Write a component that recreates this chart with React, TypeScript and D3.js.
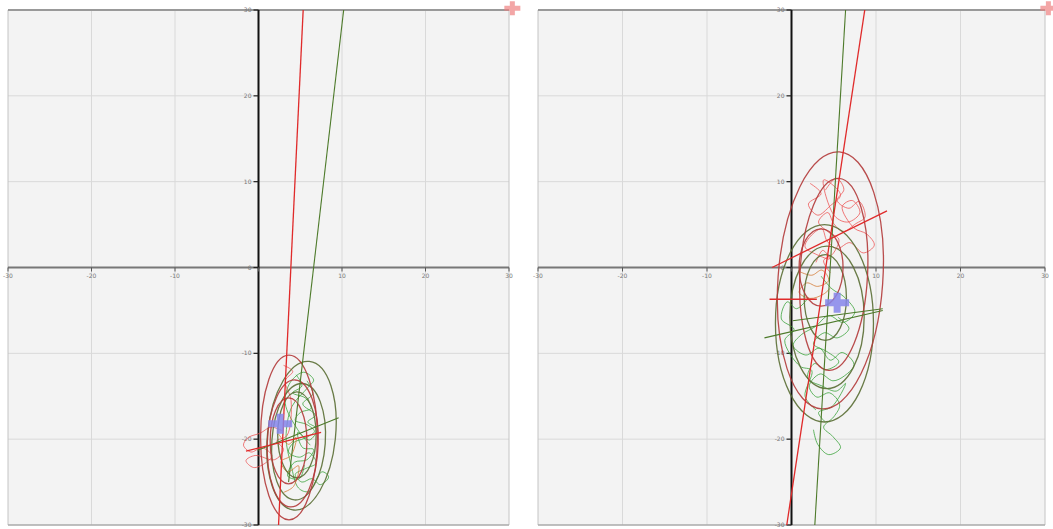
import React from 'react';
import * as d3 from 'd3';

// ---- axis ticks ----
const xTicks = [-30, -20, -10, 0, 10, 20, 30];
const yTicks = [-30, -20, -10, 0, 10, 20, 30];
const xTickLabels = ['-30', '-20', '-10', '0', '10', '20', '30'];
const yTickLabels = ['-30', '-20', '-10', '0', '10', '20', '30'];

// ---- left panel data ----
// ellipses: [cx, cy, rx, ry, angle]
const leftRedEllipses = [
  [3.65, -19.8, 3.4, 9.6, 0],
  [4.1, -20.5, 3.05, 7.4, 2],
  [3.6, -20.2, 2.2, 5.0, 0],
];
const leftGreenEllipses = [
  [5.15, -19.6, 4.07, 8.7, 6],
  [4.8, -20.3, 3.2, 6.8, 4],
  [4.6, -19.5, 2.3, 5.0, 0],
];
const leftRedLines = [
  [[2.4, -30], [5.35, 30]],
  [[-1.5, -21.4], [7.5, -19.2]],
];
const leftGreenLines = [
  [[3.6, -25], [10.2, 30]],
  [[-0.1, -21.3], [9.6, -17.5]],
];
const leftGreenTrack = [
  [4.5, -12.5], [5.2, -13.8], [4.1, -14.6], [5.6, -15.2], [6.3, -16.4], [5.0, -16.9], [4.4, -17.8],
  [5.8, -18.3], [6.7, -19.1], [5.5, -19.9], [4.2, -20.4], [3.6, -21.5], [4.9, -22.1], [6.1, -21.6],
  [6.9, -22.8], [5.7, -23.4], [4.4, -24.1], [5.2, -25.0], [6.4, -24.6], [7.4, -25.3], [8.4, -24.4],
  [7.6, -23.8], [6.0, -26.1], [4.8, -25.7], [3.9, -23.0], [3.3, -19.8], [4.0, -16.2], [5.9, -14.0],
  [6.6, -13.1], [5.4, -12.2], [3.8, -13.4], [3.2, -15.8], [4.7, -18.9], [6.2, -20.7],
];
const leftGreenTrack2 = [
  [5.8, -13.2], [6.5, -14.7], [5.3, -15.9], [6.8, -17.2], [5.9, -18.0], [7.0, -18.8], [6.1, -20.1],
  [4.7, -19.2], [5.3, -21.0], [6.6, -21.2], [5.8, -22.4], [4.3, -22.7], [3.5, -24.3], [4.9, -24.6],
  [5.5, -23.0],
];
const leftRedTrack = [
  [2.8, -19.0], [1.5, -18.6], [0.2, -19.3], [-1.2, -19.8], [-1.8, -20.7], [-0.9, -21.5], [0.4, -21.0],
  [1.6, -21.9], [0.8, -22.8], [-0.6, -23.3], [-1.5, -22.5], [-0.4, -21.9], [1.9, -22.4], [3.0, -21.2],
  [2.2, -20.2], [3.4, -19.6], [3.9, -15.5], [3.2, -13.2], [4.1, -12.1], [3.0, -11.4],
];
const leftOrangeTrack = [
  [2.4, -19.4], [3.6, -20.6], [4.5, -19.8], [3.9, -21.9], [2.7, -22.6], [3.5, -23.8], [4.8, -23.1],
  [4.2, -25.5], [3.0, -26.2],
];
const leftCross = [2.6, -18.2];

// ---- right panel data ----
const rightRedEllipses = [
  [4.6, -1.5, 6.2, 15.0, 4],
  [5.0, -0.8, 4.0, 11.2, 3],
  [3.5, 0.0, 2.6, 4.5, 0],
];
const rightGreenEllipses = [
  [3.9, -6.5, 5.8, 11.5, 0],
  [4.2, -5.8, 4.4, 8.3, 0],
  [4.0, -3.5, 2.5, 5.0, 0],
];
const rightRedLines = [
  [[-0.56, -30], [8.67, 30]],
  [[-2.3, 0], [11.3, 6.6]],
  [[-2.6, -3.7], [3.0, -3.7]],
];
const rightGreenLines = [
  [[2.76, -30], [6.4, 30]],
  [[-3.2, -8.2], [10.8, -5.0]],
  [[0.15, -6.2], [10.8, -4.8]],
];
const rightRedTrack = [
  [2.2, 9.8], [3.5, 8.6], [2.0, 7.4], [3.1, 6.1], [4.6, 7.2], [5.8, 8.4], [4.9, 9.6], [3.8, 10.2],
  [5.1, 6.0], [6.7, 5.3], [8.1, 6.4], [7.2, 7.8], [6.0, 7.1], [7.4, 4.6], [8.9, 3.9], [9.8, 2.6],
  [8.5, 1.7], [6.9, 2.9], [5.4, 2.2], [4.2, 3.1], [3.6, 4.5], [2.4, 3.8], [1.6, 2.4], [3.0, 1.5],
  [4.5, 1.0], [3.7, 2.0], [2.9, 0.6],
];
const rightRedTrack2 = [
  [4.0, 9.0], [5.3, 10.4], [6.2, 9.1], [5.4, 7.8], [6.8, 6.9], [8.0, 7.7], [8.7, 5.9], [7.6, 5.1],
  [6.1, 4.2], [5.0, 5.1], [4.3, 6.4], [3.2, 5.3], [4.4, 4.1], [5.6, 3.3], [4.9, 1.6], [3.8, 0.8],
  [4.6, -0.6],
];
const rightOrangeTrack = [
  [1.0, -0.5], [2.4, -0.9], [3.6, -0.3], [4.4, -1.5], [3.1, -2.2], [1.8, -1.8], [0.9, -2.9],
  [2.2, -3.6], [3.8, -3.1], [4.6, -2.4],
];
const rightGreenTrack = [
  [3.5, -1.0], [4.8, -2.5], [6.2, -3.4], [7.5, -5.2], [6.1, -6.4], [4.4, -5.6], [2.8, -6.9],
  [1.2, -7.8], [0.2, -9.1], [1.7, -10.2], [3.3, -9.4], [4.6, -10.8], [6.0, -9.9], [7.4, -11.3],
  [6.3, -12.6], [4.9, -13.2], [3.4, -12.4], [2.1, -13.8], [3.0, -15.1], [4.5, -14.6], [5.7, -16.0],
  [5.0, -17.4], [3.8, -18.6], [4.9, -19.7], [5.8, -21.0], [4.4, -21.8], [3.1, -20.6], [2.6, -18.9],
];
const rightGreenTrack2 = [
  [2.0, -3.5], [0.6, -4.8], [-0.5, -4.0], [-1.2, -6.0], [0.3, -7.2], [-0.8, -8.5], [1.0, -11.5],
  [2.4, -12.0], [1.6, -15.0], [2.9, -16.6],
];
const rightGreenTrack3 = [
  [5.5, -5.8], [6.8, -7.1], [5.4, -8.2], [3.9, -7.6], [2.6, -8.9], [4.2, -9.8], [5.6, -11.0],
  [4.1, -11.9], [2.7, -11.2], [1.9, -12.9], [3.6, -13.8], [5.3, -14.4], [6.4, -13.5], [4.8, -16.2],
  [3.2, -16.9], [4.0, -18.0],
];
const rightCross = [5.4, -4.1];

const cornerMarker = [30.4, 30.2];

const W = 1053;
const H = 529;

type Pt = number[];

function Cross({ x, y, color, opacity, a, b, t }: { x: number; y: number; color: string; opacity: number; a: number; b: number; t: number }) {
  const d = `M${x - t},${y - b}H${x + t}V${y - t}H${x + a}V${y + t}H${x + t}V${y + b}H${x - t}V${y + t}H${x - a}V${y - t}H${x - t}Z`;
  return <path d={d} fill={color} opacity={opacity} />;
}

function Panel(props: {
  id: string;
  left: number;
  right: number;
  redEllipses: number[][];
  greenEllipses: number[][];
  redLines: Pt[][];
  greenLines: Pt[][];
  redTracks: Pt[][];
  greenTracks: Pt[][];
  orangeTracks: Pt[][];
  cross: Pt;
}) {
  const top = 10, bottom = 525;
  const x = d3.scaleLinear().domain([-30, 30]).range([props.left, props.right]);
  const y = d3.scaleLinear().domain([-30, 30]).range([bottom, top]);
  const line = d3.line<Pt>().x((d) => x(d[0])).y((d) => y(d[1]));
  const track = d3.line<Pt>().x((d) => x(d[0])).y((d) => y(d[1])).curve(d3.curveCatmullRom);
  const ell = (e: number[], color: string, i: number) => {
    const cx = x(e[0]), cy = y(e[1]);
    const rx = x(e[0] + e[2]) - cx;
    const ry = cy - y(e[1] + e[3]);
    return (
      <ellipse key={color + i} cx={cx} cy={cy} rx={rx} ry={ry}
        transform={`rotate(${e[4]},${cx},${cy})`}
        fill="none" stroke={color} strokeWidth={1.3} opacity={0.9} />
    );
  };
  const x0 = x(0), y0 = y(0);
  return (
    <g>
      <defs>
        <clipPath id={props.id}>
          <rect x={props.left} y={top} width={props.right - props.left} height={bottom - top} />
        </clipPath>
      </defs>
      <rect x={props.left} y={top} width={props.right - props.left} height={bottom - top} fill="#f3f3f3" />
      {xTicks.filter((t) => t !== 0 && Math.abs(t) !== 30).map((t) => (
        <line key={'gx' + t} x1={x(t)} x2={x(t)} y1={top} y2={bottom} stroke="#d9d9d9" strokeWidth={1} />
      ))}
      {yTicks.filter((t) => t !== 0 && Math.abs(t) !== 30).map((t) => (
        <line key={'gy' + t} x1={props.left} x2={props.right} y1={y(t)} y2={y(t)} stroke="#d9d9d9" strokeWidth={1} />
      ))}
      <line x1={props.left} x2={props.left} y1={top} y2={bottom} stroke="#c4c4c4" strokeWidth={1} />
      <line x1={props.right} x2={props.right} y1={top} y2={bottom} stroke="#c4c4c4" strokeWidth={1} />
      <line x1={props.left} x2={props.right} y1={top} y2={top} stroke="#999" strokeWidth={2} />
      <line x1={props.left} x2={props.right} y1={bottom} y2={bottom} stroke="#aaa" strokeWidth={1.5} />
      <line x1={props.left} x2={props.right} y1={y0} y2={y0} stroke="#777" strokeWidth={2} />
      <line x1={x0} x2={x0} y1={top} y2={bottom} stroke="#111" strokeWidth={2} />
      {yTicks.map((t, i) => (
        <g key={'yt' + t}>
          <line x1={x0 - 5} x2={x0} y1={y(t)} y2={y(t)} stroke="#222" strokeWidth={1.2} />
          <text x={x0 - 7} y={y(t) + 2} fontSize={6} fill="#777" textAnchor="end" fontFamily="DejaVu Sans">{yTickLabels[i]}</text>
        </g>
      ))}
      {xTicks.map((t, i) => (
        <g key={'xt' + t}>
          <line x1={x(t)} x2={x(t)} y1={y0} y2={y0 + 4} stroke="#555" strokeWidth={1} />
          {t !== 0 && (
            <text x={x(t)} y={y0 + 10} fontSize={6} fill="#777" textAnchor="middle" fontFamily="DejaVu Sans">{xTickLabels[i]}</text>
          )}
        </g>
      ))}
      <g clipPath={`url(#${props.id})`}>
        {props.greenTracks.map((tr, i) => (
          <path key={'gt' + i} d={track(tr) || ''} fill="none" stroke="#34a034" strokeWidth={0.9} opacity={0.85} />
        ))}
        {props.orangeTracks.map((tr, i) => (
          <path key={'ot' + i} d={track(tr) || ''} fill="none" stroke="#d2762e" strokeWidth={0.9} opacity={0.85} />
        ))}
        {props.redTracks.map((tr, i) => (
          <path key={'rt' + i} d={track(tr) || ''} fill="none" stroke="#ec5050" strokeWidth={0.9} opacity={0.85} />
        ))}
        {props.greenEllipses.map((e, i) => ell(e, '#5a6e34', i))}
        {props.redEllipses.map((e, i) => ell(e, '#b23a3a', i))}
        {props.greenLines.map((l, i) => (
          <path key={'gl' + i} d={line(l) || ''} stroke="#4d7a2a" strokeWidth={1.1} fill="none" />
        ))}
        {props.redLines.map((l, i) => (
          <path key={'rl' + i} d={line(l) || ''} stroke="#e02a2a" strokeWidth={1.3} fill="none" />
        ))}
        <Cross x={x(props.cross[0])} y={y(props.cross[1])} color="#8585ea" opacity={0.85} a={12} b={10} t={3.5} />
      </g>
      <Cross x={x(cornerMarker[0])} y={y(cornerMarker[1])} color="#ee8080" opacity={0.7} a={8} b={7} t={2.5} />
    </g>
  );
}

export default function App() {
  return (
    <svg width={W} height={H} style={{ position: 'absolute', left: 0, top: 0, background: '#fff' }}>
      <Panel id="clipL" left={8} right={509}
        redEllipses={leftRedEllipses} greenEllipses={leftGreenEllipses}
        redLines={leftRedLines} greenLines={leftGreenLines}
        redTracks={[leftRedTrack]} greenTracks={[leftGreenTrack, leftGreenTrack2]} orangeTracks={[leftOrangeTrack]}
        cross={leftCross} />
      <Panel id="clipR" left={538} right={1045}
        redEllipses={rightRedEllipses} greenEllipses={rightGreenEllipses}
        redLines={rightRedLines} greenLines={rightGreenLines}
        redTracks={[rightRedTrack, rightRedTrack2]} greenTracks={[rightGreenTrack, rightGreenTrack2, rightGreenTrack3]} orangeTracks={[rightOrangeTrack]}
        cross={rightCross} />
    </svg>
  );
}
